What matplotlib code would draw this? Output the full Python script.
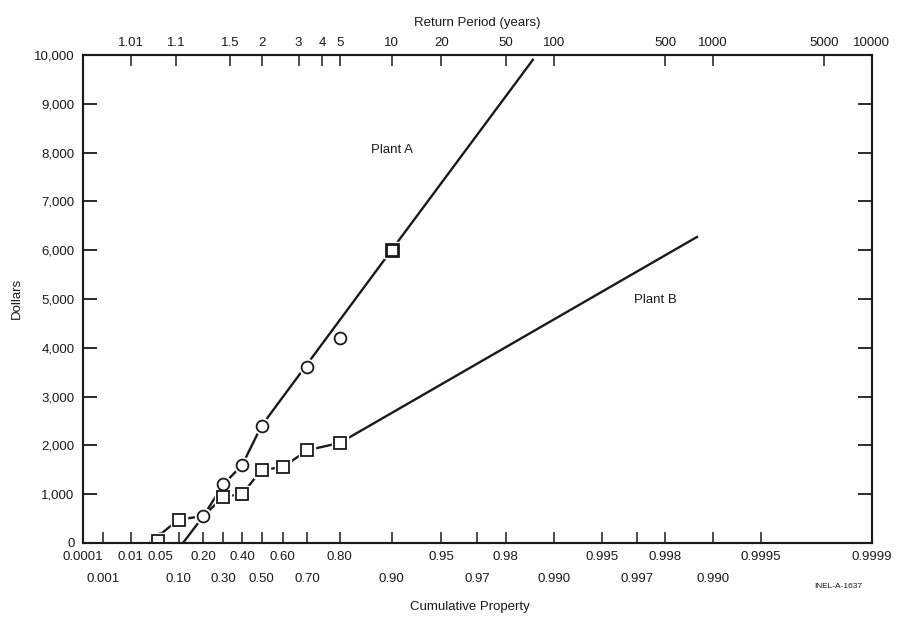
import numpy as np
import matplotlib.pyplot as plt
import matplotlib.transforms as mtransforms

plt.rcParams['font.family'] = ['Liberation Sans', 'DejaVu Sans']


def gumbel(p):
    # reduced variate of the extreme value probability paper
    return -np.log(-np.log(np.asarray(p, dtype=float)))


# data
a_circle_p = [0.2, 0.3, 0.4, 0.5, 0.7, 0.8]
a_circle_val = [550, 1200, 1600, 2400, 3600, 4200]
a_square_p = [0.9]
a_square_val = [6000]
b_square_p = [0.045, 0.1, 0.3, 0.4, 0.5, 0.6, 0.7, 0.8]
b_square_val = [40, 480, 950, 1000, 1500, 1550, 1900, 2050]

line_a_p = [0.115, 0.2, 0.3, 0.4, 0.5, 0.9, 0.9865]
line_a_val = [0, 550, 1200, 1600, 2400, 6000, 9900]
line_b_p = [0.03, 0.1, 0.2, 0.3, 0.4, 0.5, 0.6, 0.7, 0.8, 0.99874]
line_b_val = [0, 480, 550, 950, 1000, 1500, 1550, 1900, 2050, 6270]

# axis labels
prob_ticks = [0.0001, 0.001, 0.01, 0.05, 0.10, 0.20, 0.30, 0.40, 0.50, 0.60,
              0.70, 0.80, 0.90, 0.95, 0.97, 0.98, 0.99, 0.995, 0.997, 0.998,
              0.999, 0.9995, 0.9999]
row1_p = [0.0001, 0.01, 0.05, 0.20, 0.40, 0.60, 0.80, 0.95, 0.98, 0.995, 0.998, 0.9995, 0.9999]
row1_lbl = ['0.0001', '0.01', '0.05', '0.20', '0.40', '0.60', '0.80', '0.95', '0.98',
            '0.995', '0.998', '0.9995', '0.9999']
row2_p = [0.001, 0.10, 0.30, 0.50, 0.70, 0.90, 0.97, 0.99, 0.997, 0.999]
row2_lbl = ['0.001', '0.10', '0.30', '0.50', '0.70', '0.90', '0.97', '0.990', '0.997', '0.990']
return_periods = [1.01, 1.1, 1.5, 2, 3, 4, 5, 10, 20, 50, 100, 500, 1000, 5000, 10000]
return_lbl = ['1.01', '1.1', '1.5', '2', '3', '4', '5', '10', '20', '50', '100',
              '500', '1000', '5000', '10000']
dollar_ticks = list(range(0, 10001, 1000))

ink = '#1a1a1a'
fs = 9.5

fig = plt.figure(figsize=(8.97, 6.17), dpi=100)
ax = fig.add_axes([0.0925, 0.120, 0.8795, 0.791])

ax.plot(gumbel(line_a_p), line_a_val, color=ink, lw=1.7, zorder=2)
ax.plot(gumbel(line_b_p), line_b_val, color=ink, lw=1.7, zorder=2)

# white halos make the small gaps round the markers
for p, v, m in [(a_circle_p, a_circle_val, 'o'), (a_square_p, a_square_val, 's'),
                (b_square_p, b_square_val, 's')]:
    ax.plot(gumbel(p), v, ls='none', marker=m, ms=11.5, mfc='white', mec='white', zorder=3)
ax.plot(gumbel(a_circle_p), a_circle_val, ls='none', marker='o', ms=8.5,
        mfc='white', mec=ink, mew=1.3, zorder=4)
ax.plot(gumbel(a_square_p), a_square_val, ls='none', marker='s', ms=8.5,
        mfc='white', mec=ink, mew=2.0, zorder=4)
ax.plot(gumbel(b_square_p), b_square_val, ls='none', marker='s', ms=8,
        mfc='white', mec=ink, mew=1.3, zorder=4)

ax.text(gumbel(0.9), 8050, 'Plant A', ha='center', va='center', fontsize=fs, color=ink)
ax.text(6.08, 4980, 'Plant B', ha='center', va='center', fontsize=fs, color=ink)

ax.set_xlim(gumbel(0.0001), gumbel(0.9999))
ax.set_ylim(0, 10000)

ax.set_yticks(dollar_ticks)
ax.set_yticklabels([f'{v:,}' for v in dollar_ticks], fontsize=fs, color=ink)
ax.set_xticks(gumbel(prob_ticks))
ax.set_xticklabels([])
ax.tick_params(axis='x', direction='in', length=8, width=1.1, color=ink)
ax.tick_params(axis='y', direction='in', length=10, width=1.3, color=ink,
               right=True, pad=6)

trans = mtransforms.blended_transform_factory(ax.transData, ax.transAxes)
for p, s in zip(row1_p, row1_lbl):
    ax.text(gumbel(p), -0.017, s, transform=trans, ha='center', va='top', fontsize=fs, color=ink)
for p, s in zip(row2_p, row2_lbl):
    ax.text(gumbel(p), -0.062, s, transform=trans, ha='center', va='top', fontsize=fs, color=ink)

ax2 = ax.twiny()
ax2.set_xlim(ax.get_xlim())
ax2.set_xticks(gumbel([1 - 1 / t for t in return_periods]))
ax2.set_xticklabels(return_lbl, fontsize=fs, color=ink)
ax2.tick_params(axis='x', direction='in', length=8, width=1.1, color=ink, pad=4)
ax2.set_xlabel('Return Period (years)', fontsize=fs, color=ink, labelpad=8)

for a in (ax, ax2):
    for sp in a.spines.values():
        sp.set_linewidth(1.5)
        sp.set_color(ink)

ax.set_ylabel('Dollars', fontsize=fs, color=ink, labelpad=8)
fig.text(0.524, 0.016, 'Cumulative Property', ha='center', va='center', fontsize=fs, color=ink)
fig.text(0.934, 0.049, 'INEL-A-1637', ha='center', va='center', fontsize=6, color=ink)

fig.savefig('out.png', dpi=100)
